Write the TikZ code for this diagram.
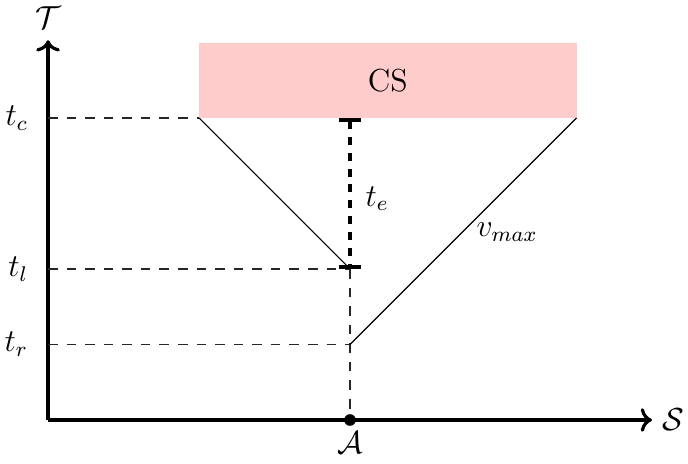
\documentclass[tikz,border=0pt]{standalone}
\usetikzlibrary{arrows.meta}
\begin{document}
\begin{tikzpicture}[x=1cm,y=1cm,
  axis/.style={line width=1.2pt,-{To}},
  guide/.style={dashed,dash pattern=on 3.6pt off 3.4pt,black!85},
  lbl/.style={font=\large},
  dot/.style={circle,fill=black,inner sep=0pt,minimum size=4.4pt}]
\useasboundingbox (-0.636,-0.57) rectangle (8.477,5.563);
\fill[red!20] (2,4) rectangle (7,5);
\node[lbl] (cs) at (4.5,4.5) {CS};
\coordinate (O) at (0,0);
\coordinate (Xe) at (8,0);
\coordinate (Ye) at (0,5.03);
\draw[axis] (O) -- (Xe) node[right,lbl] (S) {$\mathcal{S}$};
\draw[axis] (O) -- (Ye) node[above=3pt,lbl,inner sep=1pt] (T) {$\mathcal{T}$};
\coordinate (yc) at (0,4);
\coordinate (yl) at (0,2);
\coordinate (yr) at (0,1);
\coordinate (c2) at (2,4);
\coordinate (c4) at (4,4);
\coordinate (l4) at (4,2);
\coordinate (r4) at (4,1);
\coordinate (c7) at (7,4);
\node[lbl,left=4pt] (tc) at (yc) {$t_c$};
\node[lbl,left=4pt] (tl) at (yl) {$t_l$};
\node[lbl,left=4pt] (tr) at (yr) {$t_r$};
\draw[guide] (yc) -- (c2);
\draw[guide] (yl) -- (l4);
\draw[guide] (yr) -- (r4);
\node[dot] (A) at (4,0) {};
\node[lbl,below=1pt] (Al) at (A) {$\mathcal{A}$};
\draw[guide] (l4) -- (A);
\draw (c2) -- (l4);
\draw (r4) -- (c7);
\draw[line width=1.4pt,dashed,{|[width=8pt]}-{|[width=8pt]}] (c4) -- (l4);
\node[lbl] (te) at (4.36,2.93) {$t_e$};
\node[lbl] (vm) at (6.08,2.49) {$v_{max}$};
\end{tikzpicture}
\end{document}
